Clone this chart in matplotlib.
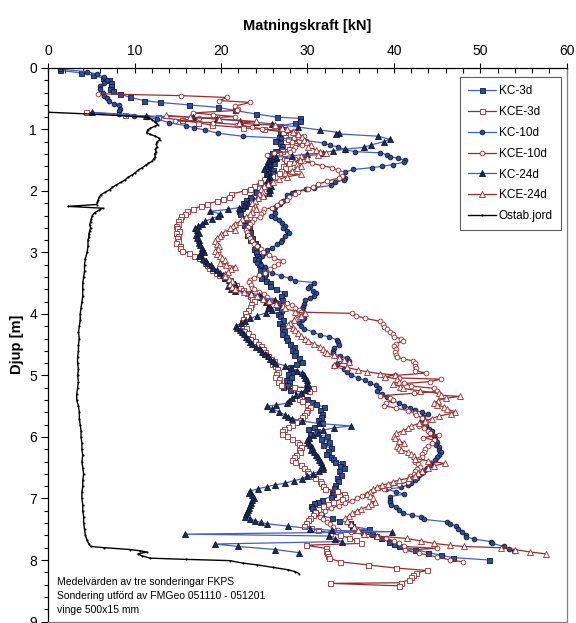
import matplotlib
matplotlib.use("Agg")
import matplotlib.pyplot as plt
from matplotlib.ticker import MultipleLocator

plt.rcParams['font.family'] = ['Liberation Sans', 'DejaVu Sans']

# ---- data: depth [m] and feed force [kN] per sounding ----
kc3_depth = [0.04, 0.08, 0.12, 0.16, 0.19, 0.24, 0.30, 0.34, 0.37, 0.42, 0.48, 0.53, 0.56, 0.60, 0.64, 0.69,
             0.75, 0.80, 0.82, 0.87, 0.90, 0.94, 0.99, 1.05, 1.09, 1.13, 1.18, 1.22, 1.27, 1.31, 1.35, 1.38,
             1.42, 1.46, 1.50, 1.54, 1.58, 1.62, 1.66, 1.70, 1.74, 1.78, 1.84, 1.90, 1.96, 2.02, 2.09, 2.14,
             2.20, 2.24, 2.28, 2.33, 2.38, 2.44, 2.50, 2.55, 2.61, 2.66, 2.71, 2.76, 2.80, 2.85, 2.90, 2.95,
             3.00, 3.05, 3.10, 3.14, 3.18, 3.23, 3.28, 3.33, 3.37, 3.41, 3.46, 3.50, 3.55, 3.60, 3.66, 3.71,
             3.77, 3.82, 3.88, 3.93, 4.00, 4.04, 4.09, 4.14, 4.19, 4.23, 4.28, 4.33, 4.38, 4.43, 4.48, 4.53,
             4.58, 4.62, 4.67, 4.72, 4.78, 4.82, 4.86, 4.92, 4.97, 5.02, 5.07, 5.11, 5.15, 5.19, 5.24, 5.29,
             5.34, 5.39, 5.43, 5.47, 5.51, 5.56, 5.62, 5.67, 5.72, 5.78, 5.83, 5.87, 5.91, 5.95, 5.99, 6.04,
             6.08, 6.13, 6.18, 6.22, 6.27, 6.32, 6.36, 6.40, 6.43, 6.47, 6.51, 6.56, 6.61, 6.67, 6.72, 6.78,
             6.83, 6.89, 6.93, 6.97, 7.02, 7.06, 7.08, 7.12, 7.16, 7.20, 7.24, 7.28, 7.32, 7.36, 7.40, 7.45,
             7.50, 7.51, 7.54, 7.57, 7.61, 7.65, 7.70, 7.74, 7.78, 7.83, 7.88, 7.92, 7.96, 8.00]
kc3_force = [1.4, 3.8, 5.2, 6.3, 7.0, 7.3, 7.3, 7.1, 7.5, 8.3, 9.5, 11.1, 12.9, 16.3, 19.6, 21.6,
             24.1, 26.5, 29.1, 29.1, 28.5, 26.8, 27.3, 26.8, 27.0, 26.7, 26.2, 26.8, 27.1, 26.9, 26.3, 25.9,
             25.6, 26.4, 25.8, 26.1, 25.5, 25.3, 26.0, 25.9, 25.2, 25.5, 25.0, 24.8, 23.8, 24.1, 23.4, 22.9,
             22.5, 22.8, 22.4, 22.1, 22.2, 22.7, 23.0, 22.6, 23.2, 23.4, 23.0, 23.6, 23.4, 23.9, 24.2, 23.8,
             24.0, 24.2, 23.9, 24.3, 24.4, 24.8, 24.5, 25.1, 25.0, 24.6, 25.2, 25.7, 25.7, 26.4, 27.3, 26.9,
             27.0, 26.6, 26.5, 26.9, 26.6, 26.8, 27.2, 26.7, 27.0, 27.0, 27.3, 27.1, 27.5, 27.6, 28.0, 28.4,
             28.2, 28.6, 28.4, 29.0, 29.4, 28.7, 28.0, 28.3, 27.8, 28.1, 27.5, 27.9, 27.6, 27.2, 28.0, 28.8,
             29.0, 30.0, 30.5, 31.0, 31.9, 31.4, 31.7, 31.6, 31.2, 31.7, 30.8, 30.1, 31.1, 30.3, 32.3, 31.6,
             32.5, 31.8, 32.7, 32.4, 32.1, 32.7, 32.9, 33.2, 34.0, 33.8, 34.2, 33.6, 33.9, 33.4, 33.5, 33.2,
             33.1, 32.8, 32.9, 32.7, 31.7, 31.2, 30.7, 30.4, 30.5, 30.9, 30.7, 31.6, 32.8, 33.6, 34.9, 35.1,
             37.1, 35.2, 36.4, 37.5, 37.9, 38.5, 39.4, 40.0, 40.6, 42.5, 44.0, 45.4, 46.8, 51.0]

kce3_depth = [0.72, 0.76, 0.80, 0.85, 0.89, 0.93, 0.97, 1.00, 1.04, 1.08, 1.12, 1.16, 1.20, 1.24, 1.27, 1.31,
              1.35, 1.38, 1.42, 1.46, 1.50, 1.54, 1.59, 1.63, 1.67, 1.70, 1.75, 1.81, 1.86, 1.92, 1.96, 2.00,
              2.05, 2.09, 2.13, 2.17, 2.21, 2.25, 2.29, 2.33, 2.37, 2.41, 2.45, 2.49, 2.53, 2.57, 2.61, 2.65,
              2.69, 2.73, 2.77, 2.81, 2.85, 2.89, 2.93, 2.97, 3.01, 3.05, 3.09, 3.13, 3.17, 3.21, 3.25, 3.29,
              3.33, 3.37, 3.41, 3.45, 3.49, 3.53, 3.57, 3.61, 3.66, 3.71, 3.75, 3.79, 3.84, 3.89, 3.93, 3.98,
              4.04, 4.08, 4.13, 4.18, 4.22, 4.27, 4.31, 4.35, 4.40, 4.44, 4.48, 4.52, 4.57, 4.61, 4.65, 4.69,
              4.73, 4.77, 4.81, 4.85, 4.90, 4.94, 4.98, 5.02, 5.06, 5.10, 5.15, 5.18, 5.21, 5.25, 5.29, 5.34,
              5.38, 5.42, 5.47, 5.51, 5.56, 5.60, 5.64, 5.68, 5.72, 5.76, 5.80, 5.83, 5.87, 5.91, 5.95, 5.99,
              6.03, 6.08, 6.12, 6.16, 6.21, 6.25, 6.29, 6.33, 6.37, 6.41, 6.46, 6.51, 6.55, 6.59, 6.63, 6.67,
              6.71, 6.75, 6.80, 6.84, 6.88, 6.93, 6.97, 7.01, 7.05, 7.09, 7.13, 7.17, 7.22, 7.27, 7.31, 7.35,
              7.40, 7.44, 7.48, 7.52, 7.56, 7.60, 7.64, 7.68, 7.73, 7.76, 7.81, 7.85, 7.89, 7.93, 7.97, 8.03,
              8.08, 8.13, 8.17, 8.21, 8.24, 8.28, 8.32, 8.37, 8.38, 8.42]
kce3_force = [4.4, 8.9, 12.7, 15.5, 17.3, 19.0, 22.5, 25.0, 27.2, 28.0, 27.4, 27.8, 28.6, 28.1, 27.6, 27.9,
              27.0, 26.7, 26.4, 27.3, 27.5, 27.9, 27.2, 27.4, 26.9, 26.7, 25.9, 25.0, 24.5, 23.8, 23.3, 22.7,
              21.2, 20.9, 20.2, 19.5, 18.4, 17.7, 16.8, 16.1, 15.8, 15.4, 15.2, 15.0, 15.0, 14.8, 14.9, 15.1,
              14.8, 15.0, 14.9, 15.0, 14.8, 15.2, 15.3, 15.5, 16.3, 16.9, 17.5, 17.9, 18.2, 18.4, 18.6, 18.9,
              19.4, 19.8, 20.3, 21.0, 21.3, 21.7, 22.2, 22.5, 23.0, 23.3, 23.6, 23.8, 23.5, 23.3, 23.1, 22.8,
              22.9, 22.5, 22.4, 22.5, 22.9, 22.7, 23.1, 23.6, 23.4, 23.9, 24.3, 24.6, 24.9, 25.1, 25.0, 25.4,
              25.8, 26.1, 25.9, 26.2, 26.5, 26.6, 26.4, 26.3, 26.7, 26.6, 26.9, 28.4, 30.6, 30.2, 28.9, 29.3,
              29.0, 29.4, 30.0, 30.3, 30.0, 29.8, 29.6, 29.4, 29.1, 28.7, 28.2, 27.8, 27.3, 27.0, 27.1, 27.6,
              28.2, 28.8, 29.0, 29.2, 29.0, 29.1, 28.7, 28.4, 28.2, 28.6, 29.2, 29.6, 29.9, 30.1, 30.6, 30.9,
              31.4, 31.6, 31.8, 32.0, 33.4, 34.2, 34.3, 34.0, 33.0, 32.4, 31.8, 31.2, 30.9, 30.6, 30.3, 30.1,
              29.8, 29.6, 30.4, 31.2, 32.6, 33.8, 34.8, 35.6, 36.2, 29.8, 32.1, 32.2, 32.3, 32.4, 32.5, 33.8,
              37.0, 40.2, 43.8, 42.6, 42.2, 42.0, 41.8, 40.8, 32.6, 40.6]

kc10_depth = [0.02, 0.06, 0.10, 0.15, 0.20, 0.25, 0.30, 0.34, 0.40, 0.45, 0.49, 0.53, 0.59, 0.61, 0.66, 0.70,
              0.75, 0.78, 0.80, 0.83, 0.89, 0.94, 0.97, 1.01, 1.06, 1.11, 1.14, 1.18, 1.22, 1.26, 1.28, 1.33,
              1.36, 1.38, 1.41, 1.44, 1.47, 1.50, 1.53, 1.57, 1.60, 1.62, 1.65, 1.69, 1.74, 1.79, 1.82, 1.86,
              1.91, 1.95, 1.97, 2.01, 2.04, 2.07, 2.12, 2.17, 2.21, 2.26, 2.30, 2.35, 2.40, 2.44, 2.48, 2.52,
              2.57, 2.61, 2.65, 2.69, 2.74, 2.79, 2.83, 2.87, 2.92, 2.96, 3.01, 3.05, 3.09, 3.13, 3.17, 3.20,
              3.24, 3.28, 3.33, 3.38, 3.42, 3.46, 3.49, 3.54, 3.58, 3.62, 3.66, 3.70, 3.74, 3.78, 3.83, 3.88,
              3.92, 3.96, 4.01, 4.06, 4.10, 4.15, 4.20, 4.24, 4.29, 4.34, 4.37, 4.42, 4.45, 4.50, 4.55, 4.60,
              4.64, 4.68, 4.72, 4.77, 4.81, 4.85, 4.90, 4.95, 4.99, 5.04, 5.08, 5.12, 5.16, 5.21, 5.26, 5.30,
              5.35, 5.40, 5.45, 5.49, 5.53, 5.56, 5.60, 5.63, 5.67, 5.72, 5.77, 5.82, 5.87, 5.91, 5.95, 5.99,
              6.04, 6.08, 6.13, 6.17, 6.21, 6.25, 6.29, 6.33, 6.37, 6.42, 6.46, 6.50, 6.54, 6.58, 6.62, 6.66,
              6.70, 6.74, 6.78, 6.82, 6.85, 6.89, 6.93, 6.97, 7.02, 7.06, 7.10, 7.14, 7.19, 7.24, 7.27, 7.30,
              7.34, 7.38, 7.41, 7.45, 7.49, 7.54, 7.59, 7.62, 7.66, 7.70, 7.73, 7.78, 7.82, 7.86]
kc10_force = [1.4, 4.5, 5.6, 6.5, 6.8, 6.4, 6.0, 6.0, 6.3, 6.5, 6.8, 7.0, 7.6, 8.2, 8.3, 8.2,
              8.2, 9.9, 11.4, 12.6, 14.0, 16.0, 16.9, 18.2, 19.6, 22.5, 26.9, 29.8, 31.9, 32.6, 33.5, 34.4,
              35.5, 38.4, 39.2, 39.6, 40.5, 41.3, 41.2, 39.9, 38.6, 37.5, 35.3, 34.4, 34.0, 34.3, 34.2, 33.2,
              32.7, 30.8, 29.8, 28.6, 28.2, 27.6, 27.6, 27.2, 26.8, 26.3, 26.1, 26.3, 25.8, 26.2, 26.7, 27.1,
              27.4, 27.2, 27.6, 27.9, 27.4, 27.1, 26.9, 26.5, 25.9, 25.3, 25.0, 24.7, 24.4, 24.3, 24.2, 24.6,
              25.1, 25.0, 25.9, 26.9, 28.0, 28.6, 30.8, 30.3, 30.1, 30.6, 31.0, 30.7, 30.3, 29.7, 29.6, 29.5,
              29.4, 29.3, 29.4, 29.6, 29.4, 29.0, 29.3, 29.6, 30.6, 31.4, 32.5, 33.4, 33.5, 33.6, 33.1, 33.0,
              32.9, 33.8, 34.6, 34.8, 33.4, 33.1, 34.2, 34.6, 35.0, 35.8, 36.7, 37.2, 37.9, 38.3, 38.1, 38.6,
              39.2, 39.8, 40.6, 41.2, 41.9, 42.4, 43.2, 43.9, 43.4, 43.3, 43.5, 43.7, 44.1, 44.4, 44.3, 44.6,
              44.8, 45.0, 44.9, 45.2, 45.2, 45.4, 45.2, 45.0, 44.8, 44.3, 44.2, 43.8, 43.6, 43.2, 42.9, 42.7,
              42.5, 42.0, 41.6, 40.8, 39.1, 40.3, 41.2, 39.5, 39.6, 39.5, 39.7, 40.3, 40.6, 41.0, 42.1, 43.1,
              43.5, 46.1, 46.5, 47.2, 47.4, 47.9, 48.4, 48.3, 49.3, 51.2, 51.4, 52.7, 53.3, 53.9]

kce10_depth = [0.42, 0.45, 0.48, 0.53, 0.56, 0.62, 0.66, 0.69, 0.73, 0.76, 0.79, 0.82, 0.86, 0.89, 0.92, 0.96,
               0.99, 1.03, 1.08, 1.11, 1.14, 1.18, 1.21, 1.25, 1.29, 1.33, 1.36, 1.38, 1.41, 1.44, 1.48, 1.52,
               1.55, 1.59, 1.62, 1.66, 1.70, 1.75, 1.79, 1.84, 1.89, 1.93, 1.97, 2.01, 2.05, 2.09, 2.14, 2.18,
               2.22, 2.27, 2.30, 2.34, 2.38, 2.42, 2.46, 2.50, 2.54, 2.58, 2.63, 2.67, 2.71, 2.76, 2.82, 2.86,
               2.90, 2.95, 2.99, 3.04, 3.09, 3.14, 3.18, 3.22, 3.27, 3.33, 3.37, 3.41, 3.44, 3.48, 3.53, 3.57,
               3.60, 3.64, 3.68, 3.72, 3.77, 3.82, 3.86, 3.90, 3.94, 3.97, 3.99, 4.03, 4.07, 4.12, 4.17, 4.21,
               4.25, 4.29, 4.33, 4.37, 4.40, 4.44, 4.48, 4.52, 4.57, 4.61, 4.66, 4.70, 4.73, 4.76, 4.80, 4.84,
               4.88, 4.92, 4.96, 5.00, 5.04, 5.06, 5.10, 5.13, 5.17, 5.21, 5.26, 5.29, 5.33, 5.37, 5.40, 5.45,
               5.49, 5.53, 5.57, 5.61, 5.65, 5.69, 5.74, 5.78, 5.82, 5.86, 5.90, 5.94, 5.97, 6.01, 6.05, 6.10,
               6.14, 6.19, 6.24, 6.28, 6.32, 6.36, 6.40, 6.44, 6.48, 6.52, 6.56, 6.60, 6.64, 6.68, 6.73, 6.77,
               6.81, 6.84, 6.88, 6.92, 6.96, 7.00, 7.04, 7.08, 7.12, 7.16, 7.20, 7.25, 7.30, 7.34, 7.38, 7.42,
               7.46, 7.51, 7.55, 7.59, 7.62, 7.65, 7.69, 7.73, 7.78, 7.81, 7.84, 7.89, 7.95, 8.00, 8.03]
kce10_force = [5.8, 15.4, 20.7, 19.8, 23.4, 21.6, 22.0, 21.8, 16.8, 19.1, 21.6, 17.5, 14.7, 19.1, 21.8, 23.6,
               24.7, 28.4, 28.8, 29.6, 28.4, 29.0, 28.2, 29.4, 28.6, 28.3, 28.0, 26.1, 25.3, 26.8, 28.5, 29.6,
               30.5, 31.7, 32.8, 33.5, 33.9, 34.0, 33.6, 32.3, 31.2, 30.6, 30.1, 28.9, 28.6, 27.9, 27.6, 26.9,
               26.5, 25.9, 25.0, 24.9, 24.6, 24.5, 23.8, 23.6, 23.3, 23.1, 22.9, 23.0, 23.1, 23.4, 23.6, 23.8,
               24.2, 24.6, 24.8, 25.5, 26.1, 27.2, 26.6, 26.1, 25.7, 25.1, 24.4, 23.8, 23.3, 23.2, 23.5, 23.6,
               23.8, 24.4, 25.0, 25.3, 25.9, 27.6, 28.2, 28.6, 29.0, 29.3, 35.2, 35.6, 36.7, 38.4, 38.7, 38.9,
               39.2, 39.6, 39.9, 40.0, 40.8, 41.0, 40.3, 40.0, 40.3, 40.1, 40.2, 40.4, 41.0, 42.2, 42.5, 42.4,
               42.6, 42.5, 43.7, 40.1, 40.6, 45.4, 44.2, 41.2, 42.0, 44.6, 45.0, 42.3, 38.4, 39.5, 39.9, 39.1,
               38.8, 40.2, 41.6, 42.4, 42.6, 43.3, 43.7, 43.6, 42.9, 43.5, 44.0, 44.2, 45.2, 43.4, 44.6, 44.4,
               44.0, 43.6, 43.5, 43.3, 43.3, 42.9, 42.5, 42.8, 43.0, 42.7, 42.5, 42.3, 41.9, 41.7, 41.6, 40.6,
               39.4, 38.8, 37.5, 36.9, 36.3, 35.7, 35.1, 34.4, 33.6, 32.7, 32.0, 31.6, 31.4, 31.8, 32.3, 32.6,
               33.0, 33.5, 35.0, 36.9, 38.0, 39.1, 40.0, 40.6, 41.2, 45.0, 41.3, 42.9, 45.0, 46.5, 48.0]

kc24_depth = [0.72, 0.78, 0.80, 0.83, 0.86, 0.88, 0.91, 0.96, 1.01, 1.05, 1.07, 1.11, 1.16, 1.20, 1.25, 1.29,
              1.32, 1.35, 1.38, 1.40, 1.43, 1.45, 1.48, 1.52, 1.56, 1.60, 1.65, 1.69, 1.73, 1.77, 1.81, 1.85,
              1.89, 1.92, 1.95, 1.99, 2.03, 2.07, 2.11, 2.14, 2.19, 2.23, 2.27, 2.30, 2.33, 2.37, 2.41, 2.45,
              2.49, 2.53, 2.57, 2.60, 2.64, 2.68, 2.72, 2.76, 2.80, 2.84, 2.88, 2.92, 2.96, 3.00, 3.03, 3.06,
              3.10, 3.14, 3.17, 3.21, 3.25, 3.29, 3.33, 3.37, 3.41, 3.45, 3.49, 3.52, 3.55, 3.59, 3.63, 3.66,
              3.69, 3.73, 3.77, 3.81, 3.85, 3.90, 3.94, 3.98, 4.03, 4.07, 4.11, 4.15, 4.19, 4.22, 4.26, 4.29,
              4.33, 4.37, 4.41, 4.45, 4.49, 4.53, 4.57, 4.61, 4.65, 4.69, 4.73, 4.77, 4.80, 4.84, 4.88, 4.92,
              4.96, 5.00, 5.04, 5.08, 5.12, 5.16, 5.20, 5.24, 5.28, 5.32, 5.36, 5.41, 5.45, 5.48, 5.50, 5.54,
              5.59, 5.64, 5.67, 5.70, 5.74, 5.78, 5.82, 5.85, 5.89, 5.93, 5.97, 6.01, 6.05, 6.09, 6.13, 6.17,
              6.21, 6.25, 6.29, 6.33, 6.37, 6.41, 6.45, 6.48, 6.52, 6.56, 6.60, 6.64, 6.68, 6.71, 6.75, 6.78,
              6.81, 6.84, 6.88, 6.91, 6.95, 6.99, 7.03, 7.07, 7.11, 7.15, 7.19, 7.22, 7.26, 7.30, 7.33, 7.36,
              7.39, 7.41, 7.45, 7.49, 7.52, 7.54, 7.58, 7.61, 7.66, 7.70, 7.74, 7.78, 7.83, 7.88]
kc24_force = [5.1, 11.3, 16.7, 19.5, 22.2, 24.0, 25.9, 28.9, 31.5, 33.7, 33.3, 38.2, 39.5, 38.8, 37.4, 36.5,
              34.4, 32.9, 31.8, 29.9, 28.2, 26.4, 25.9, 25.4, 25.7, 25.2, 25.0, 25.6, 25.3, 25.7, 25.4, 25.5,
              25.5, 25.8, 25.5, 25.7, 25.5, 24.9, 24.2, 23.8, 23.1, 22.6, 22.1, 20.8, 18.7, 19.9, 19.7, 18.9,
              18.2, 17.8, 17.3, 17.0, 17.2, 17.4, 17.1, 17.2, 17.5, 17.4, 17.6, 17.8, 17.9, 18.0, 17.6, 17.4,
              17.9, 18.3, 18.4, 18.8, 19.1, 19.5, 19.9, 20.2, 20.5, 20.9, 21.3, 21.6, 20.8, 21.2, 21.6, 23.5,
              24.4, 24.6, 26.3, 25.2, 25.6, 25.4, 25.9, 25.2, 24.2, 23.4, 22.8, 22.3, 21.7, 21.8, 22.2, 22.4,
              22.7, 22.9, 23.1, 23.3, 23.6, 24.0, 24.5, 24.7, 25.1, 25.4, 25.7, 26.0, 26.3, 27.4, 28.1, 28.8,
              29.4, 29.6, 29.7, 29.9, 30.0, 30.1, 29.9, 29.7, 29.2, 28.7, 28.2, 27.9, 27.6, 26.4, 25.3, 25.9,
              26.7, 27.4, 27.8, 28.2, 29.4, 31.3, 35.0, 33.1, 31.8, 31.2, 30.6, 30.2, 29.9, 30.1, 30.3, 30.5,
              30.4, 30.8, 31.0, 31.2, 31.3, 31.6, 31.7, 31.8, 31.8, 31.3, 30.6, 29.9, 29.4, 28.4, 27.4, 26.2,
              25.3, 24.3, 23.4, 23.2, 23.6, 23.8, 23.6, 23.5, 23.4, 23.2, 23.1, 23.0, 22.9, 22.8, 23.4, 23.9,
              24.6, 25.3, 27.8, 30.3, 32.8, 39.8, 15.8, 32.5, 33.2, 34.0, 19.3, 22.0, 26.3, 29.0]

kce24_depth = [0.77, 0.80, 0.83, 0.87, 0.90, 0.93, 0.97, 1.00, 1.04, 1.08, 1.12, 1.17, 1.21, 1.25, 1.29, 1.33,
               1.36, 1.38, 1.41, 1.43, 1.46, 1.49, 1.53, 1.56, 1.59, 1.63, 1.67, 1.71, 1.73, 1.77, 1.81, 1.85,
               1.89, 1.92, 1.96, 2.01, 2.05, 2.08, 2.12, 2.16, 2.20, 2.24, 2.27, 2.30, 2.34, 2.38, 2.42, 2.46,
               2.50, 2.53, 2.57, 2.60, 2.63, 2.66, 2.70, 2.73, 2.77, 2.82, 2.86, 2.90, 2.94, 2.98, 3.02, 3.06,
               3.09, 3.13, 3.17, 3.20, 3.23, 3.27, 3.31, 3.35, 3.39, 3.43, 3.47, 3.52, 3.56, 3.60, 3.64, 3.68,
               3.71, 3.75, 3.79, 3.83, 3.87, 3.91, 3.96, 3.99, 4.03, 4.07, 4.10, 4.14, 4.18, 4.22, 4.26, 4.31,
               4.35, 4.40, 4.44, 4.48, 4.53, 4.57, 4.61, 4.64, 4.67, 4.71, 4.75, 4.78, 4.83, 4.87, 4.91, 4.94,
               4.97, 4.99, 5.02, 5.06, 5.10, 5.14, 5.18, 5.21, 5.25, 5.29, 5.32, 5.34, 5.37, 5.41, 5.45, 5.48,
               5.51, 5.55, 5.59, 5.62, 5.66, 5.70, 5.74, 5.78, 5.82, 5.86, 5.90, 5.94, 5.98, 6.02, 6.06, 6.10,
               6.14, 6.18, 6.21, 6.24, 6.27, 6.31, 6.35, 6.39, 6.43, 6.47, 6.51, 6.55, 6.59, 6.63, 6.67, 6.70,
               6.73, 6.76, 6.78, 6.81, 6.85, 6.89, 6.92, 6.96, 7.00, 7.05, 7.09, 7.13, 7.17, 7.20, 7.24, 7.28,
               7.32, 7.36, 7.41, 7.46, 7.51, 7.57, 7.61, 7.65, 7.69, 7.73, 7.76, 7.78, 7.80, 7.83, 7.87, 7.90]
kce24_force = [13.6, 16.4, 19.8, 24.0, 22.1, 26.3, 27.1, 27.6, 28.3, 28.9, 29.4, 29.6, 29.9, 30.4, 30.1, 31.0,
               31.5, 32.1, 31.2, 29.3, 30.0, 29.1, 28.4, 28.8, 29.3, 28.8, 28.2, 27.4, 29.2, 27.6, 26.7, 26.0,
               25.4, 25.0, 24.6, 24.8, 24.4, 24.8, 24.3, 23.9, 23.6, 23.9, 23.7, 24.0, 23.6, 23.3, 22.9, 22.4,
               22.2, 21.6, 21.4, 21.0, 21.6, 20.5, 20.0, 19.9, 19.5, 19.3, 19.5, 19.8, 19.6, 19.3, 19.5, 19.9,
               20.1, 20.4, 19.9, 20.6, 21.6, 21.2, 20.8, 20.4, 20.4, 20.9, 21.3, 21.0, 21.3, 21.6, 22.6, 23.5,
               24.2, 24.8, 25.6, 26.4, 27.2, 27.4, 28.6, 29.7, 29.2, 28.6, 28.4, 28.0, 27.8, 28.3, 28.6, 28.9,
               29.3, 29.7, 30.1, 30.7, 31.4, 31.8, 32.0, 32.3, 33.1, 33.6, 34.2, 34.8, 33.1, 34.6, 35.8, 36.9,
               38.4, 40.1, 39.0, 40.4, 40.6, 39.9, 40.7, 41.0, 43.0, 45.2, 45.4, 47.6, 46.0, 45.1, 44.6, 45.0,
               45.8, 46.2, 47.1, 46.6, 45.2, 44.4, 43.6, 42.9, 42.0, 41.6, 41.0, 40.3, 40.0, 40.1, 40.6, 41.2,
               40.4, 40.6, 40.8, 41.6, 42.0, 42.3, 42.5, 44.0, 45.9, 44.6, 43.9, 43.3, 42.8, 42.4, 41.7, 40.6,
               39.9, 39.3, 38.6, 38.1, 37.6, 37.2, 36.9, 37.2, 37.6, 37.8, 37.4, 37.0, 36.2, 35.7, 35.2, 34.8,
               34.4, 34.6, 35.0, 35.4, 35.9, 36.5, 38.1, 41.5, 43.1, 44.6, 46.5, 48.1, 52.4, 54.0, 55.8, 57.6]

ostab_depth = [0.72, 0.75, 0.78, 0.80, 0.84, 0.88, 0.92, 0.95, 0.98, 1.01, 1.05, 1.08, 1.11, 1.14, 1.17, 1.20,
               1.24, 1.28, 1.32, 1.36, 1.40, 1.44, 1.48, 1.52, 1.55, 1.58, 1.62, 1.66, 1.70, 1.74, 1.78, 1.82,
               1.86, 1.90, 1.94, 1.98, 2.02, 2.06, 2.10, 2.14, 2.18, 2.22, 2.25, 2.28, 2.31, 2.35, 2.40, 2.45,
               2.50, 2.55, 2.60, 2.65, 2.70, 2.75, 2.80, 2.90, 3.00, 3.10, 3.20, 3.30, 3.40, 3.50, 3.60, 3.70,
               3.80, 3.90, 4.00, 4.10, 4.20, 4.30, 4.40, 4.50, 4.60, 4.70, 4.80, 4.90, 5.00, 5.10, 5.20, 5.30,
               5.40, 5.50, 5.60, 5.70, 5.80, 5.90, 6.00, 6.10, 6.20, 6.30, 6.40, 6.50, 6.60, 6.70, 6.80, 6.90,
               7.00, 7.10, 7.20, 7.30, 7.40, 7.50, 7.60, 7.68, 7.74, 7.78, 7.80, 7.83, 7.85, 7.87, 7.90, 7.93,
               7.97, 7.99, 8.01, 8.05, 8.08, 8.12, 8.16, 8.19, 8.22]
ostab_force = [0.0, 5.0, 9.0, 11.4, 12.0, 12.4, 12.7, 12.3, 11.8, 11.5, 11.4, 11.8, 12.4, 12.8, 12.9, 12.6,
               12.5, 12.6, 12.4, 12.5, 12.3, 12.4, 12.2, 12.0, 11.6, 11.3, 10.9, 10.4, 10.1, 9.7, 9.2, 8.9,
               8.4, 7.9, 7.4, 7.1, 6.6, 6.1, 5.9, 5.8, 5.7, 5.6, 2.3, 6.3, 5.9, 5.4, 5.1, 5.0,
               4.9, 4.8, 4.9, 4.8, 4.7, 4.7, 4.6, 4.6, 4.5, 4.3, 4.2, 4.2, 4.1, 4.0, 4.0, 4.0,
               3.9, 3.8, 3.7, 3.7, 3.6, 3.5, 3.6, 3.5, 3.5, 3.4, 3.4, 3.5, 3.4, 3.5, 3.4, 3.3,
               3.3, 3.5, 3.6, 3.6, 3.7, 3.8, 3.8, 3.9, 3.9, 4.0, 3.9, 4.0, 4.1, 4.0, 4.0, 3.9,
               3.9, 4.0, 4.0, 4.1, 4.1, 4.2, 4.3, 4.5, 4.7, 4.9, 6.5, 9.5, 10.6, 11.4, 10.4, 10.8,
               11.8, 16.0, 21.0, 22.5, 24.2, 26.0, 27.8, 28.6, 29.0]

note_lines = ["Medelvärden av tre sonderingar FKPS",
              "Sondering utförd av FMGeo 051110 - 051201",
              "vinge 500x15 mm"]

# ---- styles ----
BLUE = '#4060c4'
BLUE_FILL = '#2d4c9c'
NAVY = '#1c2c62'
RED = '#992b2b'

series = [
    ("KC-3d", kc3_depth, kc3_force, dict(color=BLUE, marker='s', ms=3.6, mfc=BLUE_FILL, mec='#111833')),
    ("KCE-3d", kce3_depth, kce3_force, dict(color=RED, marker='s', ms=3.6, mfc='white', mec=RED)),
    ("KC-10d", kc10_depth, kc10_force, dict(color=BLUE, marker='o', ms=3.4, mfc=BLUE_FILL, mec='#111833')),
    ("KCE-10d", kce10_depth, kce10_force, dict(color=RED, marker='o', ms=3.4, mfc='white', mec=RED)),
    ("KC-24d", kc24_depth, kc24_force, dict(color=BLUE, marker='^', ms=4.0, mfc=NAVY, mec='#0d1430')),
    ("KCE-24d", kce24_depth, kce24_force, dict(color=RED, marker='^', ms=4.0, mfc='white', mec=RED)),
    ("Ostab.jord", ostab_depth, ostab_force, dict(color='black', marker='s', ms=0.8, mfc='black', mec='black')),
]

fig = plt.figure(figsize=(5.76, 6.23), dpi=100)
ax = fig.add_axes([0.0837, 0.0024, 0.9002, 0.8885])

for name, depth, force, st in series:
    lw = 1.0 if name == "Ostab.jord" else 0.9
    ax.plot(force, depth, label=name, linewidth=lw, mew=0.6, **st)

ax.set_xlim(0, 60)
ax.set_ylim(9, 0)

ax.xaxis.tick_top()
ax.xaxis.set_label_position('top')
ax.xaxis.set_major_locator(MultipleLocator(10))
ax.xaxis.set_minor_locator(MultipleLocator(2))
ax.yaxis.set_major_locator(MultipleLocator(1))
ax.yaxis.set_minor_locator(MultipleLocator(0.2))

ax.tick_params(axis='x', which='major', direction='inout', length=7, width=0.8, labelsize=10, pad=4)
ax.tick_params(axis='x', which='minor', direction='in', length=3.5, width=0.8)
ax.tick_params(axis='y', which='major', direction='out', length=5, width=0.8, labelsize=10, pad=3)
ax.tick_params(axis='y', which='minor', direction='out', length=3, width=0.8)

ax.set_xlabel("Matningskraft [kN]", fontsize=10.5, fontweight='bold', labelpad=10)
ax.set_ylabel("Djup [m]", fontsize=10.5, fontweight='bold', labelpad=4)

for sp in ax.spines.values():
    sp.set_linewidth(0.9)
ax.spines['right'].set_color('#808080')
ax.spines['bottom'].set_color('#808080')

ax.text(1.0, 8.36, note_lines[0], fontsize=7.5, va='center', ha='left')
ax.text(1.0, 8.59, note_lines[1], fontsize=7.5, va='center', ha='left')
ax.text(1.0, 8.81, note_lines[2], fontsize=7.5, va='center', ha='left')

leg = ax.legend(loc='upper right', bbox_to_anchor=(0.989, 0.984), fontsize=8.5,
                frameon=True, fancybox=False, edgecolor='#333333', handlelength=2.4,
                handletextpad=0.2, labelspacing=0.75, borderpad=0.7, borderaxespad=0)
leg.get_frame().set_linewidth(0.8)

fig.savefig("out.png", dpi=100)
plt.close(fig)
